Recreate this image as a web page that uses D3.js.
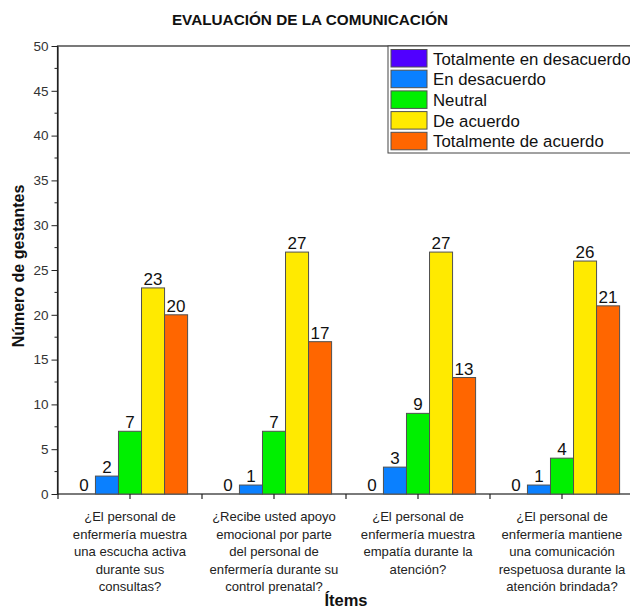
<!DOCTYPE html>
<html>
<head>
<meta charset="utf-8">
<script src="https://cdn.jsdelivr.net/npm/d3@7/dist/d3.min.js"></script>
<style>
  html, body { margin: 0; padding: 0; background: #fff; }
  svg { display: block; font-family: "Liberation Sans", Arial, sans-serif; }
</style>
</head>
<body>
<svg id="chart" width="630" height="610"></svg>
<script>
// Survey items (x categories), one line per array entry
const items = ["item1", "item2", "item3", "item4"];
const itemLabels = [
  ["¿El personal de", "enfermería muestra", "una escucha activa", "durante sus", "consultas?"],
  ["¿Recibe usted apoyo", "emocional por parte", "del personal de", "enfermería durante su", "control prenatal?"],
  ["¿El personal de", "enfermería muestra", "empatía durante la", "atención?"],
  ["¿El personal de", "enfermería mantiene", "una comunicación", "respetuosa durante la", "atención brindada?"]
];

// Response categories and their counts per item
const seriesNames = ["Totalmente en desacuerdo", "En desacuerdo", "Neutral", "De acuerdo", "Totalmente de acuerdo"];
const totalmenteDesacuerdo = [0, 0, 0, 0];
const enDesacuerdo = [2, 1, 3, 1];
const neutral = [7, 7, 9, 4];
const deAcuerdo = [23, 27, 27, 26];
const totalmenteAcuerdo = [20, 17, 13, 21];
const seriesColors = ["#5000ff", "#0a80ff", "#00f000", "#ffea00", "#ff6600"];

const yTicks = [0, 5, 10, 15, 20, 25, 30, 35, 40, 45, 50];

const seriesValues = [totalmenteDesacuerdo, enDesacuerdo, neutral, deAcuerdo, totalmenteAcuerdo];
const rows = items.map((id, i) => ({
  id, i,
  values: seriesNames.map((name, s) => ({ name, s, value: seriesValues[s][i] }))
}));

const svg = d3.select("#chart");
const plot = { left: 58, right: 634, top: 46, bottom: 494 };

const x0 = d3.scaleBand().domain(items).range([plot.left, plot.right]).paddingInner(0.2).paddingOuter(0.1);
const x1 = d3.scaleBand().domain(seriesNames).range([0, x0.bandwidth()]);
const y = d3.scaleLinear().domain([0, 50]).range([plot.bottom, plot.top]);
const color = d3.scaleOrdinal().domain(seriesNames).range(seriesColors);

// Frame of the plot area (right edge falls outside the canvas)
svg.append("rect")
  .attr("x", plot.left - 0.5).attr("y", plot.top)
  .attr("width", plot.right - plot.left).attr("height", plot.bottom - plot.top)
  .attr("fill", "none").attr("stroke", "#222").attr("stroke-width", 1.2);

// Bars
const groups = svg.append("g").selectAll("g").data(rows).join("g")
  .attr("transform", d => `translate(${x0(d.id)},0)`);

groups.selectAll("rect").data(d => d.values.filter(v => v.value > 0)).join("rect")
  .attr("x", v => x1(v.name))
  .attr("y", v => y(v.value))
  .attr("width", x1.bandwidth())
  .attr("height", v => y(0) - y(v.value))
  .attr("fill", v => color(v.name))
  .attr("stroke", "#505050")
  .attr("stroke-width", 1);

// Value labels
groups.selectAll("text").data(d => d.values).join("text")
  .attr("x", v => x1(v.name) + x1.bandwidth() / 2)
  .attr("y", v => y(v.value) - 3)
  .attr("text-anchor", "middle")
  .attr("font-size", 17)
  .attr("fill", "#111")
  .text(v => v.value);

// Y axis: major ticks with labels, minor ticks between
const yAxis = svg.append("g").attr("transform", `translate(${plot.left - 0.5},0)`);
yAxis.call(d3.axisLeft(y).tickValues(yTicks).tickSize(6).tickPadding(3).tickSizeOuter(0))
  .call(g => g.select(".domain").attr("stroke", "#222").attr("stroke-width", 1.2))
  .call(g => g.selectAll(".tick line").attr("stroke", "#222"))
  .call(g => g.selectAll(".tick text").attr("font-size", 13.5).attr("fill", "#333")
    .attr("font-family", "Liberation Sans, Arial, sans-serif"));
yAxis.selectAll("line.minor").data(d3.range(2.5, 50, 5)).join("line")
  .attr("class", "minor")
  .attr("x1", -3).attr("x2", 0)
  .attr("y1", d => y(d)).attr("y2", d => y(d))
  .attr("stroke", "#222");

// X axis ticks: at item centres and at the boundaries between items
const step = x0.step();
const boundaries = d3.range(items.length + 1).map(k => plot.left + k * step);
const centers = items.map(id => x0(id) + x0.bandwidth() / 2);
svg.append("g").selectAll("line").data(boundaries.concat(centers)).join("line")
  .attr("x1", d => d).attr("x2", d => d)
  .attr("y1", plot.bottom).attr("y2", plot.bottom + 5)
  .attr("stroke", "#222").attr("stroke-width", 1.2);

// Item labels
const lab = svg.append("g").selectAll("text").data(rows).join("text")
  .attr("x", d => centers[d.i])
  .attr("y", 521)
  .attr("text-anchor", "middle")
  .attr("font-size", 13.1)
  .attr("fill", "#222");
lab.selectAll("tspan").data(d => itemLabels[d.i]).join("tspan")
  .attr("x", function () { return d3.select(this.parentNode).attr("x"); })
  .attr("dy", (t, k) => k === 0 ? 0 : 17.6)
  .text(t => t);

// Titles
svg.append("text")
  .attr("x", 310).attr("y", 25)
  .attr("text-anchor", "middle")
  .attr("font-size", 15.3).attr("font-weight", "bold").attr("fill", "#111")
  .text("EVALUACIÓN DE LA COMUNICACIÓN");

svg.append("text")
  .attr("x", (plot.left + plot.right) / 2).attr("y", 606)
  .attr("text-anchor", "middle")
  .attr("font-size", 16.5).attr("font-weight", "bold").attr("fill", "#111")
  .text("Ítems");

svg.append("text")
  .attr("transform", `translate(24,${(plot.top + plot.bottom) / 2 - 4}) rotate(-90)`)
  .attr("text-anchor", "middle")
  .attr("font-size", 16).attr("font-weight", "bold").attr("fill", "#111")
  .text("Número de gestantes");

// Legend
const legend = svg.append("g").attr("transform", "translate(388,46)");
legend.append("rect")
  .attr("x", 0).attr("y", 0).attr("width", 260).attr("height", 107)
  .attr("fill", "#fff").attr("stroke", "#444").attr("stroke-width", 1);
const li = legend.selectAll("g.item").data(seriesNames).join("g")
  .attr("class", "item")
  .attr("transform", (d, k) => `translate(3,${3.5 + k * 20.7})`);
li.append("rect")
  .attr("width", 36).attr("height", 17.5)
  .attr("fill", d => color(d)).attr("stroke", "#505050").attr("stroke-width", 1);
li.append("text")
  .attr("x", 42).attr("y", 15)
  .attr("font-size", 16.8).attr("fill", "#111")
  .text(d => d);
</script>
</body>
</html>
